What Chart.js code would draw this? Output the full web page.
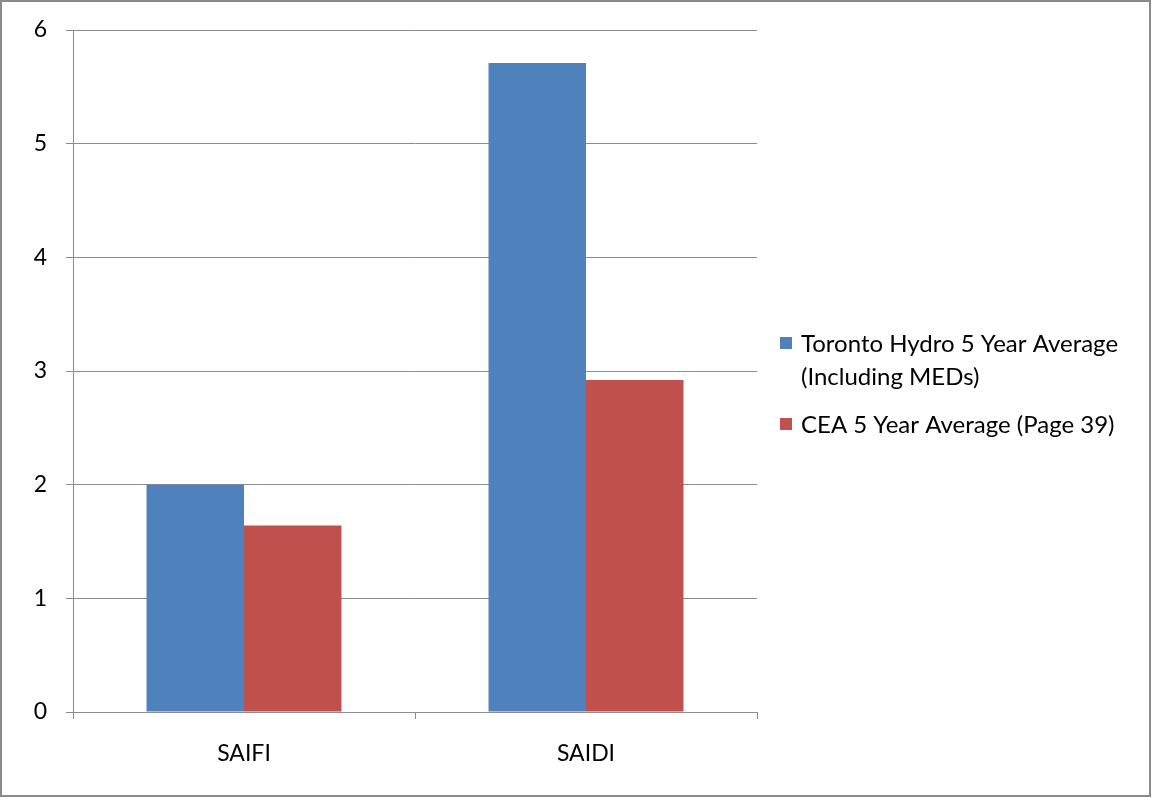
<!DOCTYPE html>
<html>
<head>
<meta charset="utf-8">
<script src="https://cdn.jsdelivr.net/npm/chart.js@4"></script>
<style>
  html, body { margin: 0; padding: 0; background: #fff; }
  #wrap { position: relative; width: 1153px; height: 798px; }
</style>
</head>
<body>
<div id="wrap"><canvas id="chart" width="1153" height="798"></canvas></div>
<script>
// values
const categories = ['SAIFI', 'SAIDI'];
const torontoHydro = [2.0, 5.71];
const ceaAverage = [1.64, 2.92];
const seriesLabels = [
    ['Toronto Hydro 5 Year Average', '(Including MEDs)'],
    ['CEA 5 Year Average (Page 39)']
];
const seriesColors = ['#4f81bd', '#c0504d'];

const FONT = 'Lato, "Open Sans", sans-serif';
const gridColor = '#8c8c8c';

// legend on the right, drawn on the canvas, with wrapped lines
const sideLegend = {
    id: 'sideLegend',
    afterDraw(chart) {
        const ctx = chart.ctx;
        ctx.save();
        ctx.font = '24px ' + FONT;
        ctx.textBaseline = 'middle';
        let y = 343;
        chart.data.datasets.forEach(ds => {
            ctx.fillStyle = ds.backgroundColor;
            ctx.fillRect(780, y - 6, 12, 12);
            ctx.fillStyle = '#000';
            ds.label.forEach((line, i) => {
                ctx.fillText(line, 801, y + 1 + i * 33);
            });
            y += ds.label.length * 33 + 15;
        });
        ctx.restore();
    }
};

const outerBorder = {
    id: 'outerBorder',
    afterDraw(chart) {
        const ctx = chart.ctx;
        ctx.save();
        ctx.strokeStyle = '#8a8a8a';
        ctx.lineWidth = 2;
        ctx.strokeRect(1, 1, 1149, 795);
        ctx.restore();
    }
};

new Chart(document.getElementById('chart').getContext('2d'), {
    type: 'bar',
    data: {
        labels: categories,
        datasets: [
            { label: seriesLabels[0], data: torontoHydro, backgroundColor: seriesColors[0] },
            { label: seriesLabels[1], data: ceaAverage, backgroundColor: seriesColors[1] }
        ]
    },
    options: {
        responsive: false,
        animation: false,
        layout: { padding: { top: 30, right: 396, left: 0, bottom: 0 } },
        datasets: {
            bar: { categoryPercentage: 0.57, barPercentage: 1.0, borderWidth: 0 }
        },
        plugins: {
            legend: { display: false },
            tooltip: { enabled: false }
        },
        scales: {
            x: {
                offset: true,
                grid: { offset: true, drawOnChartArea: false, drawTicks: true, tickLength: 7, color: gridColor },
                border: { color: gridColor, width: 1 },
                ticks: { color: '#000', font: { family: FONT, size: 23 }, padding: 21 },
                afterFit(scale) { scale.height = 86; }
            },
            y: {
                min: 0,
                max: 6,
                grid: { color: gridColor, tickLength: 7 },
                border: { color: gridColor, width: 1 },
                ticks: { stepSize: 1, color: '#000', font: { family: FONT, size: 23 }, padding: 19 },
                afterFit(scale) {
                    scale.width = 73;
                    scale.paddingTop = 0;
                    scale.paddingBottom = 0;
                }
            }
        }
    },
    plugins: [sideLegend, outerBorder]
});
</script>
</body>
</html>
